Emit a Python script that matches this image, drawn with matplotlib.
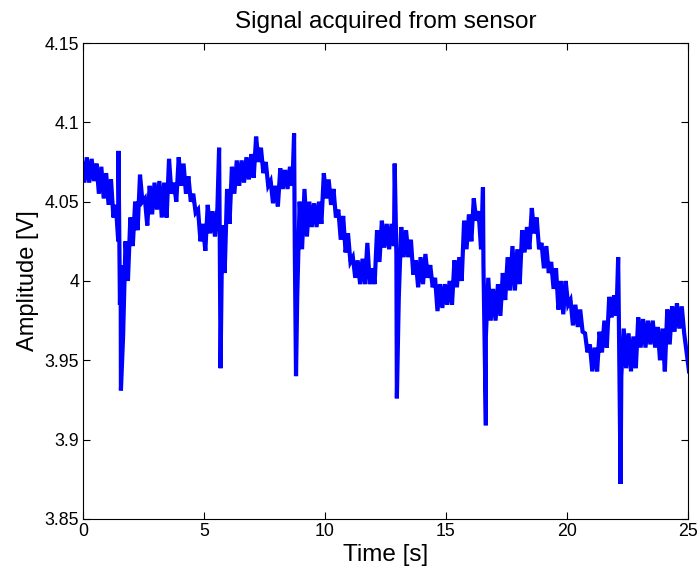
import numpy as np
import matplotlib
matplotlib.use("Agg")
import matplotlib.pyplot as plt

# upper / lower edge of the noisy trace, read every 0.2 s from 0 to 25 s
step = 0.2
upper = [
    4.076, 4.078, 4.077, 4.074, 4.072, 4.068, 4.064, 4.048, 4.010, 4.025,
    4.040, 4.050, 4.067, 4.052, 4.060, 4.062, 4.063, 4.062, 4.077, 4.062,
    4.078, 4.074, 4.066, 4.055, 4.045, 4.036, 4.048, 4.044, 4.046, 4.035,
    4.058, 4.072, 4.076, 4.076, 4.078, 4.080, 4.091, 4.084, 4.075, 4.063,
    4.060, 4.071, 4.070, 4.072, 4.020, 4.050, 4.058, 4.050, 4.049, 4.050,
    4.068, 4.064, 4.058, 4.045, 4.041, 4.030, 4.015, 4.013, 4.014, 4.024,
    4.008, 4.032, 4.038, 4.036, 4.036, 4.017, 4.034, 4.032, 4.026, 4.013,
    4.015, 4.017, 4.010, 4.002, 3.998, 3.998, 4.000, 4.013, 4.015, 4.038,
    4.042, 4.052, 4.044, 4.010, 4.002, 3.995, 3.998, 4.005, 4.015, 4.022,
    4.020, 4.032, 4.034, 4.046, 4.040, 4.024, 4.022, 4.012, 4.008, 4.000,
    4.000, 3.988, 3.985, 3.982, 3.967, 3.960, 3.958, 3.968, 3.975, 3.990,
    3.991, 3.975, 3.970, 3.967, 3.965, 3.977, 3.976, 3.975, 3.975, 3.971,
    3.970, 3.982, 3.984, 3.986, 3.984, 3.955,
]
lower = [
    4.062, 4.062, 4.063, 4.055, 4.052, 4.048, 4.040, 4.025, 3.965, 4.000,
    4.022, 4.032, 4.050, 4.035, 4.042, 4.045, 4.040, 4.040, 4.055, 4.050,
    4.060, 4.055, 4.050, 4.043, 4.025, 4.019, 4.030, 4.028, 4.020, 4.005,
    4.036, 4.055, 4.060, 4.062, 4.064, 4.065, 4.075, 4.068, 4.060, 4.049,
    4.047, 4.058, 4.058, 4.060, 3.990, 4.020, 4.028, 4.034, 4.034, 4.036,
    4.052, 4.048, 4.040, 4.026, 4.018, 4.012, 4.002, 3.998, 3.998, 3.998,
    3.998, 4.012, 4.021, 4.020, 4.022, 3.990, 4.015, 4.015, 4.004, 3.996,
    3.998, 4.002, 3.996, 3.981, 3.983, 3.985, 3.985, 3.996, 4.000, 4.020,
    4.025, 4.038, 4.020, 3.965, 3.975, 3.975, 3.978, 3.988, 3.994, 3.994,
    3.998, 4.018, 4.020, 4.030, 4.020, 4.008, 4.005, 3.995, 3.982, 3.979,
    3.985, 3.972, 3.971, 3.968, 3.955, 3.943, 3.943, 3.955, 3.958, 3.977,
    3.978, 3.940, 3.945, 3.943, 3.945, 3.958, 3.958, 3.960, 3.958, 3.950,
    3.943, 3.960, 3.968, 3.970, 3.967, 3.943,
]

# glitches between samples: (time, value)
spike_t = [1.46, 1.52, 1.56, 5.62, 5.68, 8.72, 8.80, 12.88, 12.97, 16.53, 16.65, 22.12, 22.22]
spike_v = [4.082, 3.985, 3.931, 4.084, 3.945, 4.093, 3.940, 4.074, 3.926, 4.059, 3.909, 4.015, 3.872]

x_ticks = [0, 5, 10, 15, 20, 25]
y_ticks = [3.85, 3.9, 3.95, 4.0, 4.05, 4.1, 4.15]
y_labels = ['3.85', '3.9', '3.95', '4', '4.05', '4.1', '4.15']

# the trace swings between its upper and lower edge sample by sample
base = np.arange(len(upper)) * step
t = np.concatenate([base - step / 4, base + step / 4, spike_t])
v = np.concatenate([upper, lower, spike_v])
order = np.argsort(t, kind="stable")
t, v = t[order], v[order]

plt.rcParams["font.family"] = ["Liberation Sans", "DejaVu Sans"]

fig = plt.figure(figsize=(6.99, 5.74), dpi=100)
ax = fig.add_axes([0.119, 0.096, 0.865, 0.829])

ax.plot(t, v, color=(0, 0, 1), lw=3.0, solid_joinstyle="miter")

ax.set_xlim(0, 25)
ax.set_ylim(3.85, 4.15)
ax.set_xticks(x_ticks)
ax.set_xticklabels([str(x) for x in x_ticks])
ax.set_yticks(y_ticks)
ax.set_yticklabels(y_labels)
ax.tick_params(direction="in", length=5, width=0.8, top=True, right=True,
               labelsize=12.8, pad=3)
for s in ax.spines.values():
    s.set_linewidth(0.8)

ax.set_title("Signal acquired from sensor", fontsize=17.5, pad=11)
ax.set_xlabel("Time [s]", fontsize=17.5, labelpad=3)
ax.set_ylabel("Amplitude [V]", fontsize=17, labelpad=4)

fig.savefig("out.png", dpi=100)
